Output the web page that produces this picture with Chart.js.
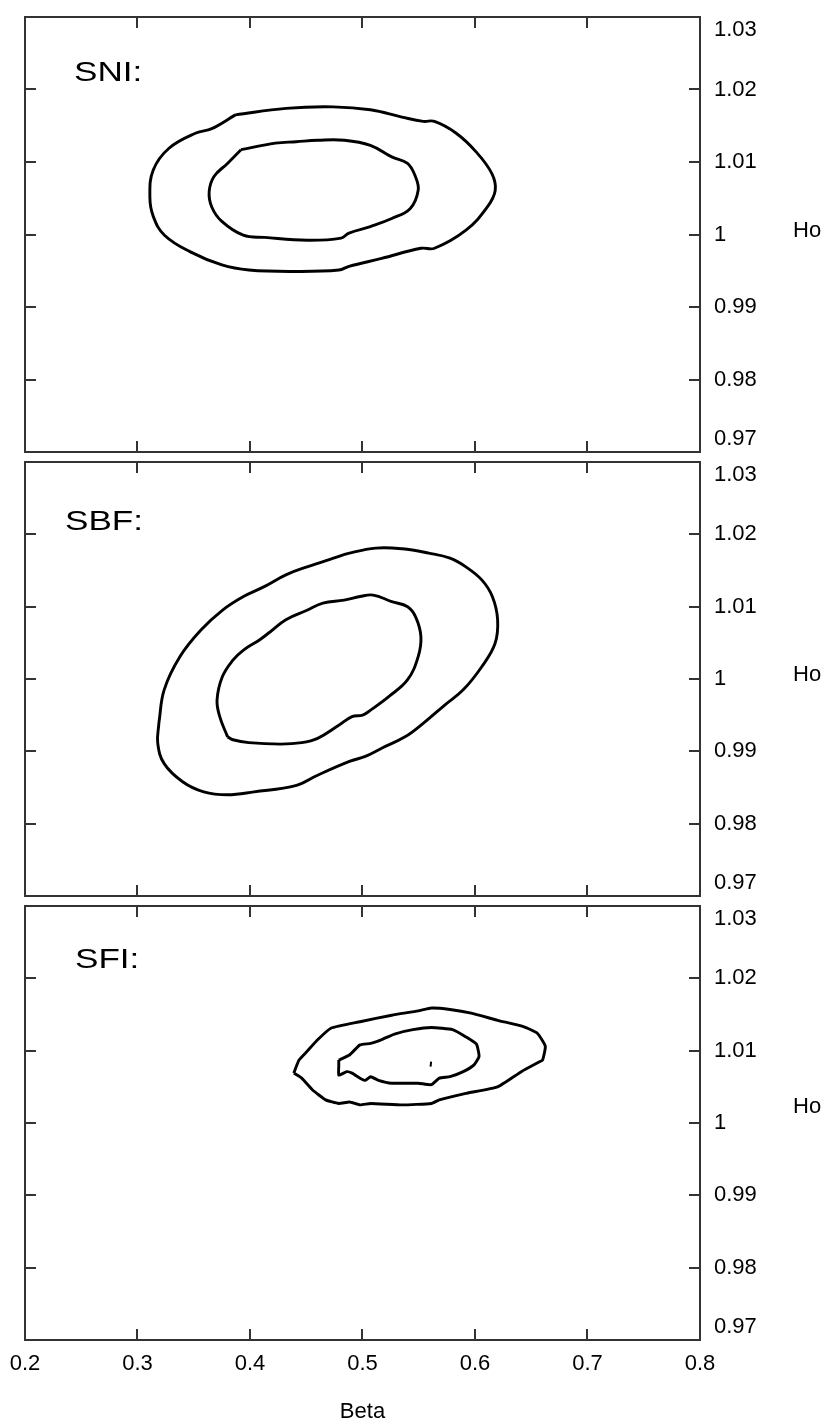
<!DOCTYPE html>
<html>
<head>
<meta charset="utf-8">
<title>Beta - Ho contours</title>
<script src="https://cdn.jsdelivr.net/npm/chart.js@4.4.1/dist/chart.umd.min.js"></script>
<style>
  html, body { margin: 0; padding: 0; background: #fff; }
  #wrap { position: relative; width: 830px; height: 1428px; }
  #wrap canvas { position: absolute; left: 0; }
</style>
</head>
<body>
<div id="wrap">
  <canvas id="sni" width="830" height="457" style="top:0px"></canvas>
  <canvas id="sbf" width="830" height="444" style="top:457px"></canvas>
  <canvas id="sfi" width="830" height="527" style="top:901px"></canvas>
</div>

<script>
// Ticks on both axes
const betaTicks = [0.2, 0.3, 0.4, 0.5, 0.6, 0.7, 0.8];
const betaLabels = ['0.2', '0.3', '0.4', '0.5', '0.6', '0.7', '0.8'];
const hoTicks = [0.97, 0.98, 0.99, 1.00, 1.01, 1.02, 1.03];
const hoLabels = ['0.97', '0.98', '0.99', '1', '1.01', '1.02', '1.03'];
const panelNames = ['SNI:', 'SBF:', 'SFI:'];

// Contours (Beta, Ho)
const sniOuterBeta = [0.387, 0.432, 0.474, 0.507, 0.535, 0.554, 0.564, 0.583, 0.601, 0.615, 0.618, 0.611, 0.592, 0.564, 0.552, 0.517, 0.488, 0.479, 0.441, 0.399, 0.375, 0.347, 0.324, 0.314, 0.311, 0.314, 0.328, 0.352, 0.366];
const sniOuterHo   = [1.0165, 1.0174, 1.0176, 1.0172, 1.0162, 1.0156, 1.0156, 1.0140, 1.0114, 1.0084, 1.0061, 1.0038, 1.0006, 0.9981, 0.9981, 0.9967, 0.9956, 0.9951, 0.9949, 0.9951, 0.9958, 0.9976, 0.9999, 1.0025, 1.0052, 1.0089, 1.0119, 1.0140, 1.0146];
const sniInnerBeta = [0.392, 0.4225, 0.441, 0.460, 0.484, 0.507, 0.526, 0.540, 0.547, 0.5495, 0.5425, 0.526, 0.507, 0.488, 0.481, 0.451, 0.413, 0.394, 0.375, 0.366, 0.3637, 0.368, 0.380];
const sniInnerHo   = [1.0117, 1.0126, 1.0128, 1.0130, 1.0130, 1.0123, 1.0107, 1.0098, 1.0080, 1.0061, 1.0036, 1.0022, 1.0011, 1.0002, 0.9995, 0.9992, 0.9996, 0.9999, 1.0018, 1.0038, 1.0059, 1.0080, 1.0098];

const sbfOuterBeta = [0.319, 0.3237, 0.3378, 0.3566, 0.3754, 0.3942, 0.4131, 0.4319, 0.4507, 0.4742, 0.4884, 0.5119, 0.5354, 0.5589, 0.5778, 0.5919, 0.606, 0.6154, 0.6201, 0.6178, 0.606, 0.5895, 0.5731, 0.5542, 0.5378, 0.5166, 0.5025, 0.4884, 0.4601, 0.4413, 0.4036, 0.3801, 0.3589, 0.3401, 0.3237, 0.318];
const sbfOuterHo   = [0.9939, 0.9985, 1.0031, 1.0068, 1.0095, 1.0114, 1.0128, 1.0144, 1.0155, 1.0167, 1.0174, 1.0181, 1.0180, 1.0174, 1.0167, 1.0155, 1.0137, 1.0114, 1.0082, 1.0049, 1.0017, 0.9985, 0.9964, 0.9939, 0.9920, 0.9904, 0.9893, 0.9886, 0.9867, 0.9853, 0.9844, 0.9840, 0.9844, 0.9858, 0.9883, 0.9911];
const sbfInnerBeta = [0.3801, 0.3731, 0.3707, 0.3754, 0.3848, 0.3942, 0.4084, 0.4178, 0.4319, 0.4507, 0.4648, 0.4836, 0.4978, 0.5095, 0.526, 0.5401, 0.5472, 0.5519, 0.5495, 0.5401, 0.5236, 0.5072, 0.5001, 0.4907, 0.4789, 0.4601, 0.446, 0.4272, 0.3989, 0.3848];
const sbfInnerHo   = [0.9920, 0.9948, 0.9971, 1.0003, 1.0026, 1.0040, 1.0054, 1.0065, 1.0082, 1.0095, 1.0105, 1.0109, 1.0114, 1.0116, 1.0107, 1.0100, 1.0086, 1.0059, 1.0031, 0.9999, 0.9976, 0.9957, 0.9950, 0.9948, 0.9936, 0.9918, 0.9912, 0.9910, 0.9912, 0.9916];

const sfiOuterBeta = [0.4389, 0.4436, 0.4507, 0.4601, 0.4719, 0.4978, 0.526, 0.5495, 0.5613, 0.5778, 0.5966, 0.6201, 0.6436, 0.6554, 0.6625, 0.6601, 0.6578, 0.6412, 0.6201, 0.5919, 0.5683, 0.5613, 0.5354, 0.5072, 0.4978, 0.4884, 0.4789, 0.4672, 0.4554, 0.446];
const sfiOuterHo   = [1.0069, 1.0087, 1.0099, 1.0115, 1.0131, 1.0140, 1.0149, 1.0155, 1.0159, 1.0157, 1.0152, 1.0142, 1.0133, 1.0124, 1.0106, 1.0087, 1.0085, 1.0071, 1.0050, 1.0041, 1.0032, 1.0027, 1.0025, 1.0027, 1.0025, 1.0029, 1.0027, 1.0032, 1.0046, 1.0062];
const sfiInnerBeta = [0.4789, 0.4884, 0.4978, 0.5072, 0.5166, 0.5284, 0.5448, 0.5613, 0.5801, 0.5919, 0.6013, 0.6036, 0.5989, 0.5895, 0.5778, 0.5683, 0.5613, 0.5495, 0.526, 0.5142, 0.5072, 0.5025, 0.4978, 0.4907, 0.486, 0.4789, 0.4789];
const sfiInnerHo   = [1.0087, 1.0094, 1.0108, 1.0110, 1.0115, 1.0123, 1.0129, 1.0132, 1.0129, 1.0119, 1.0109, 1.0092, 1.0080, 1.0071, 1.0064, 1.0062, 1.0053, 1.0055, 1.0055, 1.0059, 1.0064, 1.0059, 1.0062, 1.0069, 1.0071, 1.0066, 1.0078];
const sfiPeakBeta  = [0.561, 0.5605];
const sfiPeakHo    = [1.0085, 1.0078];

// zip beta/Ho into points, optionally closing the loop
function toPoints(betas, hos, closed) {
    const pts = betas.map((b, i) => ({ x: b, y: hos[i] }));
    if (closed) pts.push(pts[0]);
    return pts;
}

const font = { family: '"Liberation Sans", Arial, Helvetica, sans-serif', size: 22 };
const frameGrid = { drawOnChartArea: false, drawTicks: true, tickLength: -11, tickWidth: 2, lineWidth: 2, color: '#333', tickColor: '#333' };
const frameBorder = { display: true, color: '#333', width: 2 };

function setTicks(values) {
    return scale => { scale.ticks = values.map(v => ({ value: v })); };
}
// force the axis box size and drop the label overhang padding so every panel frame lines up
function fixSize(prop, size) {
    return scale => {
        scale[prop] = size;
        scale.paddingTop = 0;
        scale.paddingBottom = 0;
        scale.paddingLeft = 0;
        scale.paddingRight = 0;
    };
}

// Panel name + horizontal "Ho" on the right
const panelText = {
    id: 'panelText',
    afterDraw(chart, args, opts) {
        const { ctx, chartArea, scales } = chart;
        ctx.save();
        ctx.fillStyle = '#000';
        ctx.textBaseline = 'middle';
        ctx.textAlign = 'left';
        ctx.font = '27px "Liberation Sans", Arial, sans-serif';
        ctx.translate(chartArea.left + opts.nameX, chartArea.top + opts.nameY);
        ctx.scale(1.3, 1); // original lettering is drawn wide
        ctx.fillText(opts.name, 0, 0);
        ctx.restore();

        ctx.save();
        ctx.fillStyle = '#000';
        ctx.textBaseline = 'middle';
        ctx.textAlign = 'left';
        ctx.font = '22px "Liberation Sans", Arial, sans-serif';
        const yr = scales.yRight;
        ctx.fillText('Ho', yr.right - 37, yr.getPixelForValue(1) + opts.hoShift);
        ctx.restore();
    }
};

const panels = [
    { id: 'sni', name: panelNames[0], top: 17, bottom: 5, showBeta: false, tension: 0.4, nameX: 49, nameY: 57, hoShift: -4,
      lines: [[sniOuterBeta, sniOuterHo, true], [sniInnerBeta, sniInnerHo, true]] },
    { id: 'sbf', name: panelNames[1], top: 5, bottom: 5, showBeta: false, tension: 0.4, nameX: 40, nameY: 61, hoShift: -4,
      lines: [[sbfOuterBeta, sbfOuterHo, true], [sbfInnerBeta, sbfInnerHo, true]] },
    { id: 'sfi', name: panelNames[2], top: 5, bottom: 88, showBeta: true, tension: 0.15, nameX: 50, nameY: 55, hoShift: -16,
      lines: [[sfiOuterBeta, sfiOuterHo, true], [sfiInnerBeta, sfiInnerHo, true], [sfiPeakBeta, sfiPeakHo, false]] }
];

panels.forEach(p => {
    const ctx = document.getElementById(p.id).getContext('2d');
    new Chart(ctx, {
        type: 'scatter',
        data: {
            datasets: p.lines.map(([b, h, closed]) => ({
                data: toPoints(b, h, closed),
                showLine: true,
                borderColor: '#000',
                borderWidth: closed ? 2.9 : 2,
                pointRadius: 0,
                tension: p.tension,
                fill: false
            }))
        },
        options: {
            responsive: false,
            animation: false,
            layout: { padding: 0 },
            plugins: {
                legend: { display: false },
                tooltip: { enabled: false },
                panelText: { name: p.name, nameX: p.nameX, nameY: p.nameY, hoShift: p.hoShift }
            },
            scales: {
                x: {
                    type: 'linear', axis: 'x', position: 'bottom', min: 0.2, max: 0.8,
                    afterBuildTicks: setTicks(betaTicks),
                    afterFit: fixSize('height', p.bottom),
                    grid: frameGrid, border: frameBorder,
                    ticks: { display: p.showBeta, autoSkip: false, maxRotation: 0, padding: 22, color: '#000', font: font,
                             callback: (v, i) => betaLabels[i] },
                    title: { display: p.showBeta, text: 'Beta', color: '#000', font: font, padding: { top: 0, bottom: 3 } }
                },
                xTop: {
                    type: 'linear', axis: 'x', position: 'top', min: 0.2, max: 0.8,
                    afterBuildTicks: setTicks(betaTicks),
                    afterFit: fixSize('height', p.top),
                    grid: frameGrid, border: frameBorder,
                    ticks: { display: false }
                },
                y: {
                    type: 'linear', axis: 'y', position: 'left', min: 0.97, max: 1.03,
                    afterBuildTicks: setTicks(hoTicks),
                    afterFit: fixSize('width', 25),
                    grid: frameGrid, border: frameBorder,
                    ticks: { display: false }
                },
                yRight: {
                    type: 'linear', axis: 'y', position: 'right', min: 0.97, max: 1.03,
                    afterBuildTicks: setTicks(hoTicks),
                    afterFit: fixSize('width', 130),
                    grid: frameGrid, border: frameBorder,
                    ticks: {
                        display: true, autoSkip: false, padding: 25, color: '#000', font: font,
                        // end labels sit inside the frame: push 0.97 up and 1.03 down by half a line
                        callback: (v, i) => i === 0 ? [hoLabels[i], ''] :
                                            i === hoLabels.length - 1 ? ['', hoLabels[i]] : hoLabels[i]
                    }
                }
            }
        },
        plugins: [panelText]
    });
});
</script>
</body>
</html>
